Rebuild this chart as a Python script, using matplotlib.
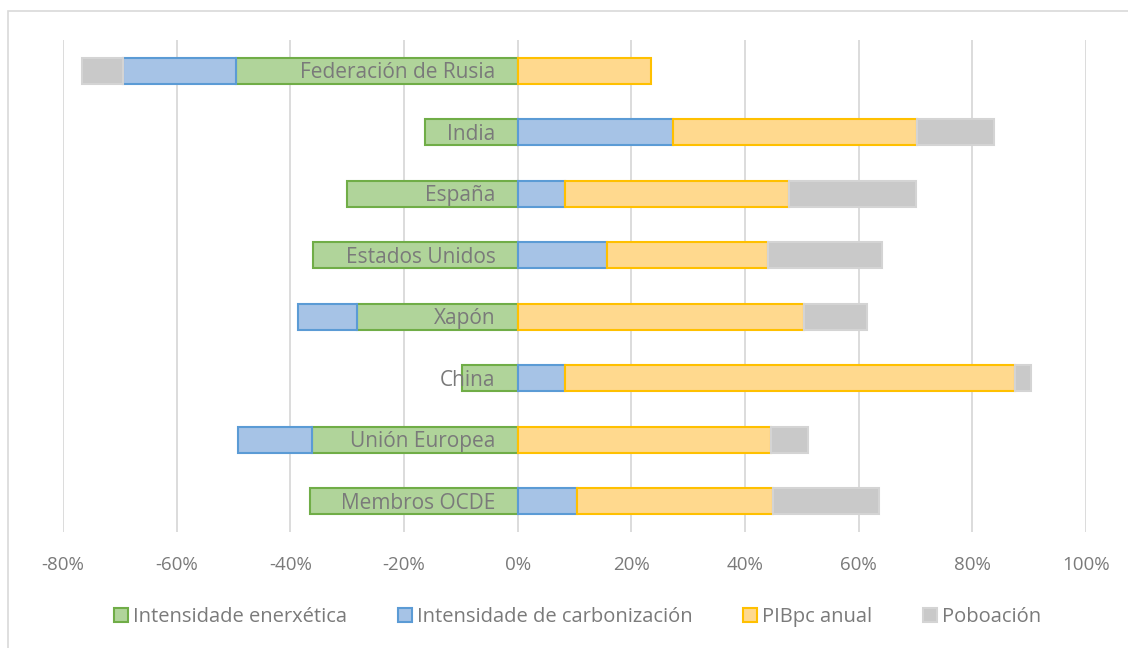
import matplotlib
matplotlib.use("Agg")
import matplotlib.pyplot as plt
from matplotlib.patches import Patch, Rectangle
from matplotlib.ticker import FuncFormatter

# Descomposición da variación das emisións (%), por factor
categorias = ["Federación de Rusia", "India", "España", "Estados Unidos",
              "Xapón", "China", "Unión Europea", "Membros OCDE"]
intensidade_enerxetica = [-49.6, -16.3, -30.0, -36.0, -28.3, -9.8, -36.2, -36.6]
intensidade_carbonizacion = [-19.8, 27.4, 8.3, 15.8, -10.4, 8.3, -13.0, 10.4]
pib_pc_anual = [23.5, 42.9, 39.5, 28.3, 50.3, 79.2, 44.5, 34.6]
poboacion = [-7.2, 13.5, 22.3, 20.0, 11.2, 2.8, 6.5, 18.6]

series = [
    ("Intensidade enerxética", intensidade_enerxetica, "#b0d49a", "#70ad47"),
    ("Intensidade de carbonización", intensidade_carbonizacion, "#a6c3e6", "#5b9bd5"),
    ("PIBpc anual", pib_pc_anual, "#ffd98e", "#ffc000"),
    ("Poboación", poboacion, "#c9c9c9", "#d4d4d4"),
]
ticks = [-80, -60, -40, -20, 0, 20, 40, 60, 80, 100]

texto = "#7a7a7a"
plt.rcParams["font.family"] = ["Open Sans", "DejaVu Sans"]

fig = plt.figure(figsize=(11.28, 6.48), dpi=100)
ax = fig.add_axes([63 / 1128, 1 - 532 / 648, (1086 - 63) / 1128, (532 - 40) / 648])

# borde do gráfico
fig.patches.append(Rectangle((8 / 1128, -0.1), 1.2, 1 - 11 / 648 + 0.1,
                             transform=fig.transFigure, fill=False,
                             edgecolor="#d9d9d9", linewidth=1.2))

y = list(range(len(categorias)))
pos = [0.0] * len(categorias)
neg = [0.0] * len(categorias)
for nome, vals, cor, borde in series:
    for i, v in enumerate(vals):
        if v >= 0:
            ax.barh(y[i], v, left=pos[i], height=0.42, color=cor,
                    edgecolor=borde, linewidth=1.5, zorder=2)
            pos[i] += v
        else:
            ax.barh(y[i], v, left=neg[i], height=0.42, color=cor,
                    edgecolor=borde, linewidth=1.5, zorder=2)
            neg[i] += v

for i, nome in enumerate(categorias):
    ax.annotate(nome, (0, y[i]), xytext=(-16, -1.5), textcoords="offset points",
                ha="right", va="center", fontsize=15, color=texto, zorder=5)

ax.set_xlim(-80, 100)
ax.set_ylim(len(categorias) - 0.5, -0.5)
ax.set_xticks(ticks)
ax.xaxis.set_major_formatter(FuncFormatter(lambda v, p: f"{v:.0f}%"))
ax.set_yticks([])
ax.tick_params(axis="x", length=0, pad=17, labelsize=13.5, labelcolor=texto)
ax.grid(axis="x", color="#d9d9d9", linewidth=1.3, zorder=0)
for s in ax.spines.values():
    s.set_visible(False)

handles = [Patch(facecolor=c, edgecolor=b, linewidth=1.5, label=n) for n, _, c, b in series]
leg = fig.legend(handles=handles, loc="center", bbox_to_anchor=(0.512, 1 - 617 / 648),
                 ncol=4, frameon=False, fontsize=14.5, handlelength=0.7,
                 handleheight=0.7, handletextpad=0.25, columnspacing=2.5)
for t in leg.get_texts():
    t.set_color(texto)

fig.savefig("out.png", dpi=100)
